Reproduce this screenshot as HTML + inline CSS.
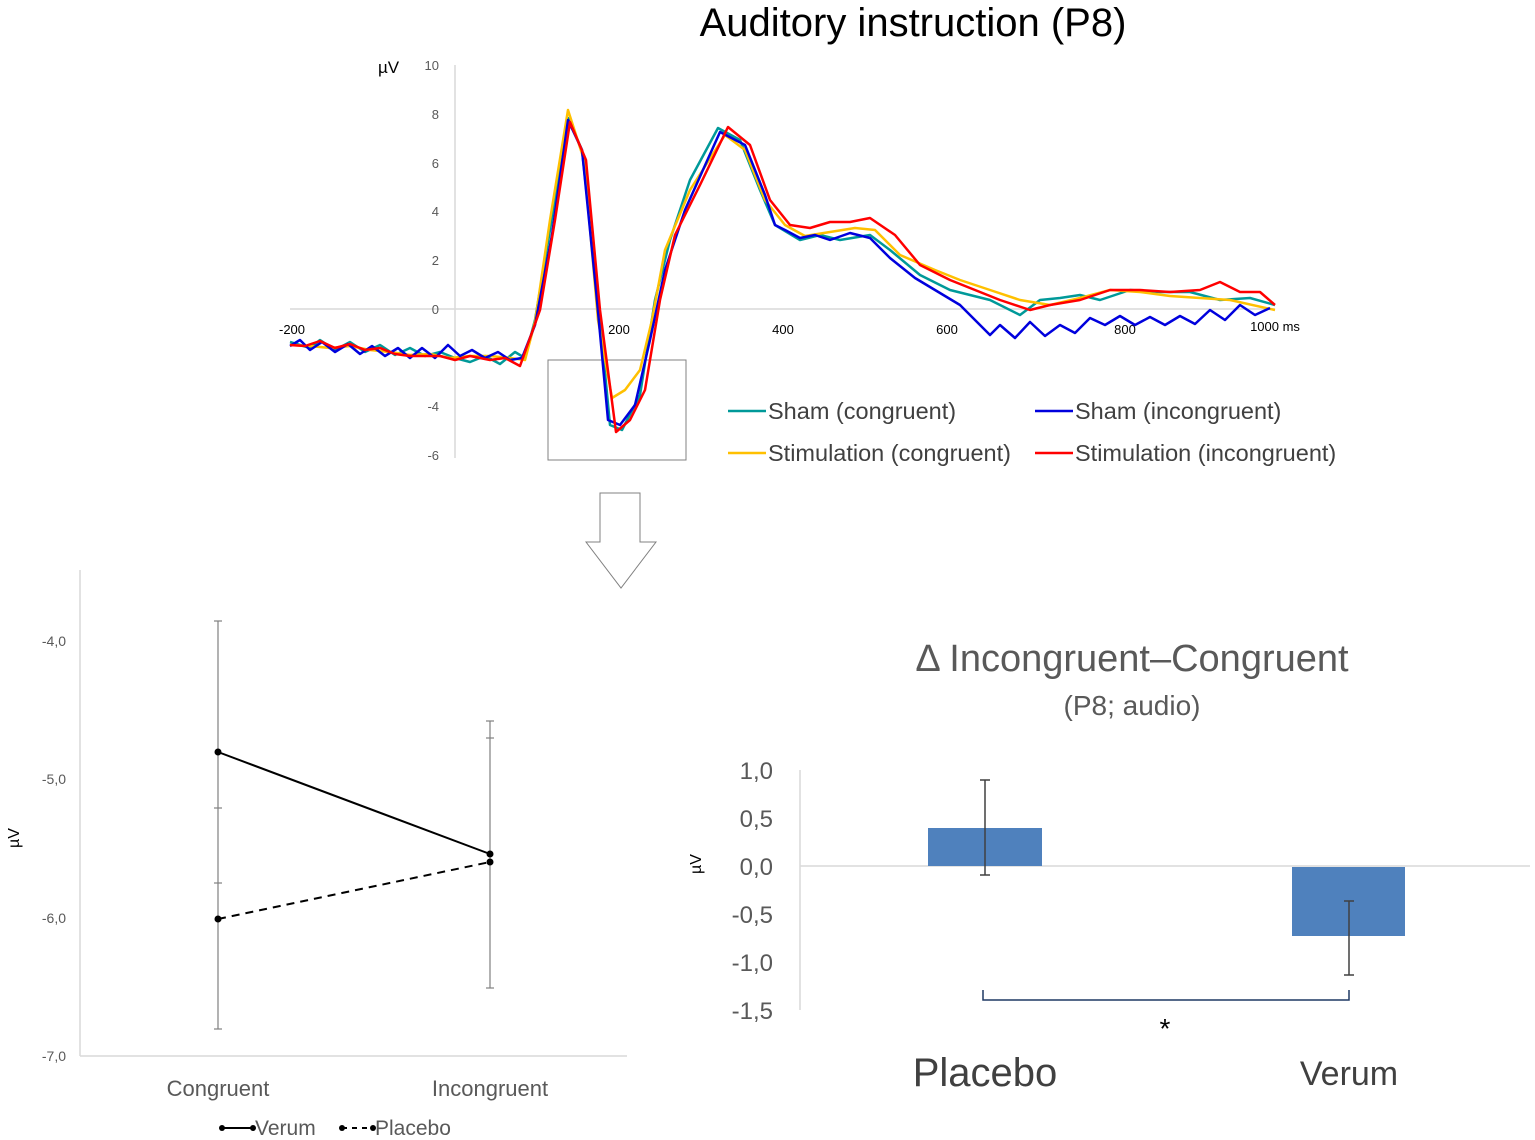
<!DOCTYPE html>
<html><head><meta charset="utf-8"><style>
body{margin:0;background:#fff}
svg{display:block;font-family:"Liberation Sans",sans-serif}
</style></head><body>
<svg width="1535" height="1140" viewBox="0 0 1535 1140">
<text x="913" y="36" font-size="40" text-anchor="middle" fill="#000">Auditory instruction (P8)</text>
<line x1="455" y1="65" x2="455" y2="458" stroke="#d9d9d9" stroke-width="1.5"/>
<line x1="290" y1="309" x2="1275" y2="309" stroke="#d9d9d9" stroke-width="1.5"/>
<g font-size="13" fill="#595959" text-anchor="end">
<text x="439" y="70">10</text><text x="439" y="119">8</text><text x="439" y="168">6</text><text x="439" y="216">4</text><text x="439" y="265">2</text><text x="439" y="314">0</text><text x="439" y="411">-4</text><text x="439" y="460">-6</text>
</g>
<text x="378" y="73" font-size="17" fill="#000">µV</text>
<g font-size="13" fill="#000" text-anchor="middle">
<text x="292" y="334">-200</text><text x="619" y="334">200</text><text x="783" y="334">400</text><text x="947" y="334">600</text><text x="1125" y="334">800</text><text x="1275" y="331">1000 ms</text>
</g>
<rect x="548" y="360" width="138" height="100" fill="none" stroke="#808080" stroke-width="1"/>
<g fill="none" stroke-width="2.5" stroke-linejoin="round">
<path stroke="#009999" d="M290,342 L310,348 320,340 335,350 350,342 365,352 380,345 395,355 410,348 425,356 440,352 455,358 470,362 485,356 500,364 515,352 525,358 535,320 550,230 568,118 582,150 598,300 610,425 622,430 640,395 655,300 670,240 690,180 718,128 740,140 760,190 775,225 800,240 820,235 840,240 870,235 890,250 920,275 950,290 970,295 990,300 1020,315 1040,300 1060,298 1080,295 1100,300 1130,290 1160,292 1190,292 1220,300 1250,298 1275,305"/>
<path stroke="#ffc000" d="M290,345 L310,346 330,348 350,346 370,350 390,352 410,355 430,354 450,358 470,356 490,356 510,358 525,360 535,322 550,220 568,110 584,160 598,320 612,398 625,390 640,370 652,320 665,250 690,190 725,135 745,150 765,200 785,225 805,236 830,232 855,228 875,230 900,255 935,270 960,280 990,290 1020,300 1050,305 1080,298 1110,290 1140,292 1170,296 1200,298 1230,300 1275,310"/>
<path stroke="#0000dd" d="M290,346 L300,340 310,350 322,342 335,352 348,344 360,354 372,346 385,356 398,348 410,358 422,348 435,358 448,345 460,356 472,350 485,358 498,352 510,360 522,358 535,325 552,235 568,120 582,150 596,290 608,420 620,425 635,405 650,340 665,270 685,210 720,132 745,145 765,195 775,225 785,230 800,238 815,235 830,240 850,233 870,238 890,258 915,278 935,290 960,305 975,320 990,335 1000,325 1015,338 1030,322 1045,336 1060,325 1075,333 1090,318 1105,325 1120,316 1135,325 1150,317 1165,325 1180,316 1195,324 1210,310 1225,320 1240,305 1255,315 1270,308"/>
<path stroke="#ff0000" d="M290,345 L305,346 320,341 335,348 350,344 365,350 380,348 395,354 410,356 425,356 440,356 455,360 470,356 490,360 505,358 520,366 540,310 555,220 570,122 586,160 600,310 616,432 630,420 645,390 660,300 675,235 700,185 728,127 750,145 770,200 790,225 810,228 830,222 850,222 870,218 895,235 920,265 950,280 975,290 1000,300 1030,310 1050,305 1080,300 1110,290 1140,290 1170,292 1200,290 1220,282 1240,292 1260,292 1275,305"/>
</g>
<g font-size="23.5" fill="#404040">
<line x1="728" y1="411" x2="766" y2="411" stroke="#009999" stroke-width="2.5"/><text x="768" y="419">Sham (congruent)</text>
<line x1="1035" y1="411" x2="1073" y2="411" stroke="#0000dd" stroke-width="2.5"/><text x="1075" y="419">Sham (incongruent)</text>
<line x1="728" y1="453" x2="766" y2="453" stroke="#ffc000" stroke-width="2.5"/><text x="768" y="461">Stimulation (congruent)</text>
<line x1="1035" y1="453" x2="1073" y2="453" stroke="#ff0000" stroke-width="2.5"/><text x="1075" y="461">Stimulation (incongruent)</text>
</g>
<path d="M600,493 L640,493 L640,542 L656,542 L621,588 L586,542 L600,542 Z" fill="none" stroke="#808080" stroke-width="1"/>
<line x1="80" y1="570" x2="80" y2="1056" stroke="#d9d9d9" stroke-width="1.5"/>
<line x1="80" y1="1056" x2="627" y2="1056" stroke="#d9d9d9" stroke-width="1.5"/>
<g font-size="14" fill="#595959" text-anchor="end">
<text x="66" y="646">-4,0</text><text x="66" y="784">-5,0</text><text x="66" y="923">-6,0</text><text x="66" y="1061">-7,0</text>
</g>
<text transform="translate(19,838) rotate(-90)" font-size="16" text-anchor="middle" fill="#000">µV</text>
<g stroke="#808080" stroke-width="1.2">
<line x1="218" y1="621" x2="218" y2="1029"/><line x1="214" y1="621" x2="222" y2="621"/><line x1="214" y1="1029" x2="222" y2="1029"/><line x1="214" y1="808" x2="222" y2="808"/><line x1="214" y1="883" x2="222" y2="883"/>
<line x1="490" y1="721" x2="490" y2="988"/><line x1="486" y1="721" x2="494" y2="721"/><line x1="486" y1="988" x2="494" y2="988"/><line x1="486" y1="738" x2="494" y2="738"/>
</g>
<line x1="218" y1="752" x2="490" y2="854" stroke="#000" stroke-width="2"/>
<line x1="218" y1="919" x2="490" y2="862" stroke="#000" stroke-width="2" stroke-dasharray="8,6"/>
<g fill="#000"><circle cx="218" cy="752" r="3.5"/><circle cx="490" cy="854" r="3.5"/><circle cx="218" cy="919" r="3.5"/><circle cx="490" cy="862" r="3.5"/></g>
<g font-size="22" fill="#595959" text-anchor="middle"><text x="218" y="1096">Congruent</text><text x="490" y="1096">Incongruent</text></g>
<line x1="222" y1="1128" x2="253" y2="1128" stroke="#000" stroke-width="2"/><circle cx="222" cy="1128" r="3"/><circle cx="253" cy="1128" r="3"/>
<line x1="342" y1="1128" x2="373" y2="1128" stroke="#000" stroke-width="2" stroke-dasharray="5,5"/><circle cx="342" cy="1128" r="3"/><circle cx="373" cy="1128" r="3"/>
<g font-size="21" fill="#595959"><text x="255" y="1135">Verum</text><text x="375" y="1135">Placebo</text></g>
<text x="1132" y="671" font-size="38" text-anchor="middle" fill="#595959">Δ Incongruent–Congruent</text>
<text x="1132" y="715" font-size="28" text-anchor="middle" fill="#595959">(P8; audio)</text>
<line x1="800" y1="770" x2="800" y2="1010" stroke="#d9d9d9" stroke-width="1.5"/>
<line x1="800" y1="866" x2="1530" y2="866" stroke="#d9d9d9" stroke-width="1.5"/>
<g font-size="24" fill="#595959" text-anchor="end">
<text x="773" y="779">1,0</text><text x="773" y="827">0,5</text><text x="773" y="875">0,0</text><text x="773" y="923">-0,5</text><text x="773" y="971">-1,0</text><text x="773" y="1019">-1,5</text>
</g>
<text transform="translate(701,864) rotate(-90)" font-size="16" text-anchor="middle" fill="#000">µV</text>
<rect x="928" y="828" width="114" height="38" fill="#4f81bd"/>
<rect x="1292" y="867" width="113" height="69" fill="#4f81bd"/>
<g stroke="#404040" stroke-width="1.5">
<line x1="985" y1="780" x2="985" y2="875"/><line x1="980" y1="780" x2="990" y2="780"/><line x1="980" y1="875" x2="990" y2="875"/>
<line x1="1349" y1="901" x2="1349" y2="975"/><line x1="1344" y1="901" x2="1354" y2="901"/><line x1="1344" y1="975" x2="1354" y2="975"/>
</g>
<path d="M983,990 L983,1000 L1349,1000 L1349,990" fill="none" stroke="#1f3864" stroke-width="1.5"/>
<text x="1165" y="1038" font-size="28" text-anchor="middle" fill="#000">*</text>
<text x="985" y="1086" font-size="40" text-anchor="middle" fill="#404040">Placebo</text>
<text x="1349" y="1085" font-size="34" text-anchor="middle" fill="#404040">Verum</text>
</svg>
</body></html>
